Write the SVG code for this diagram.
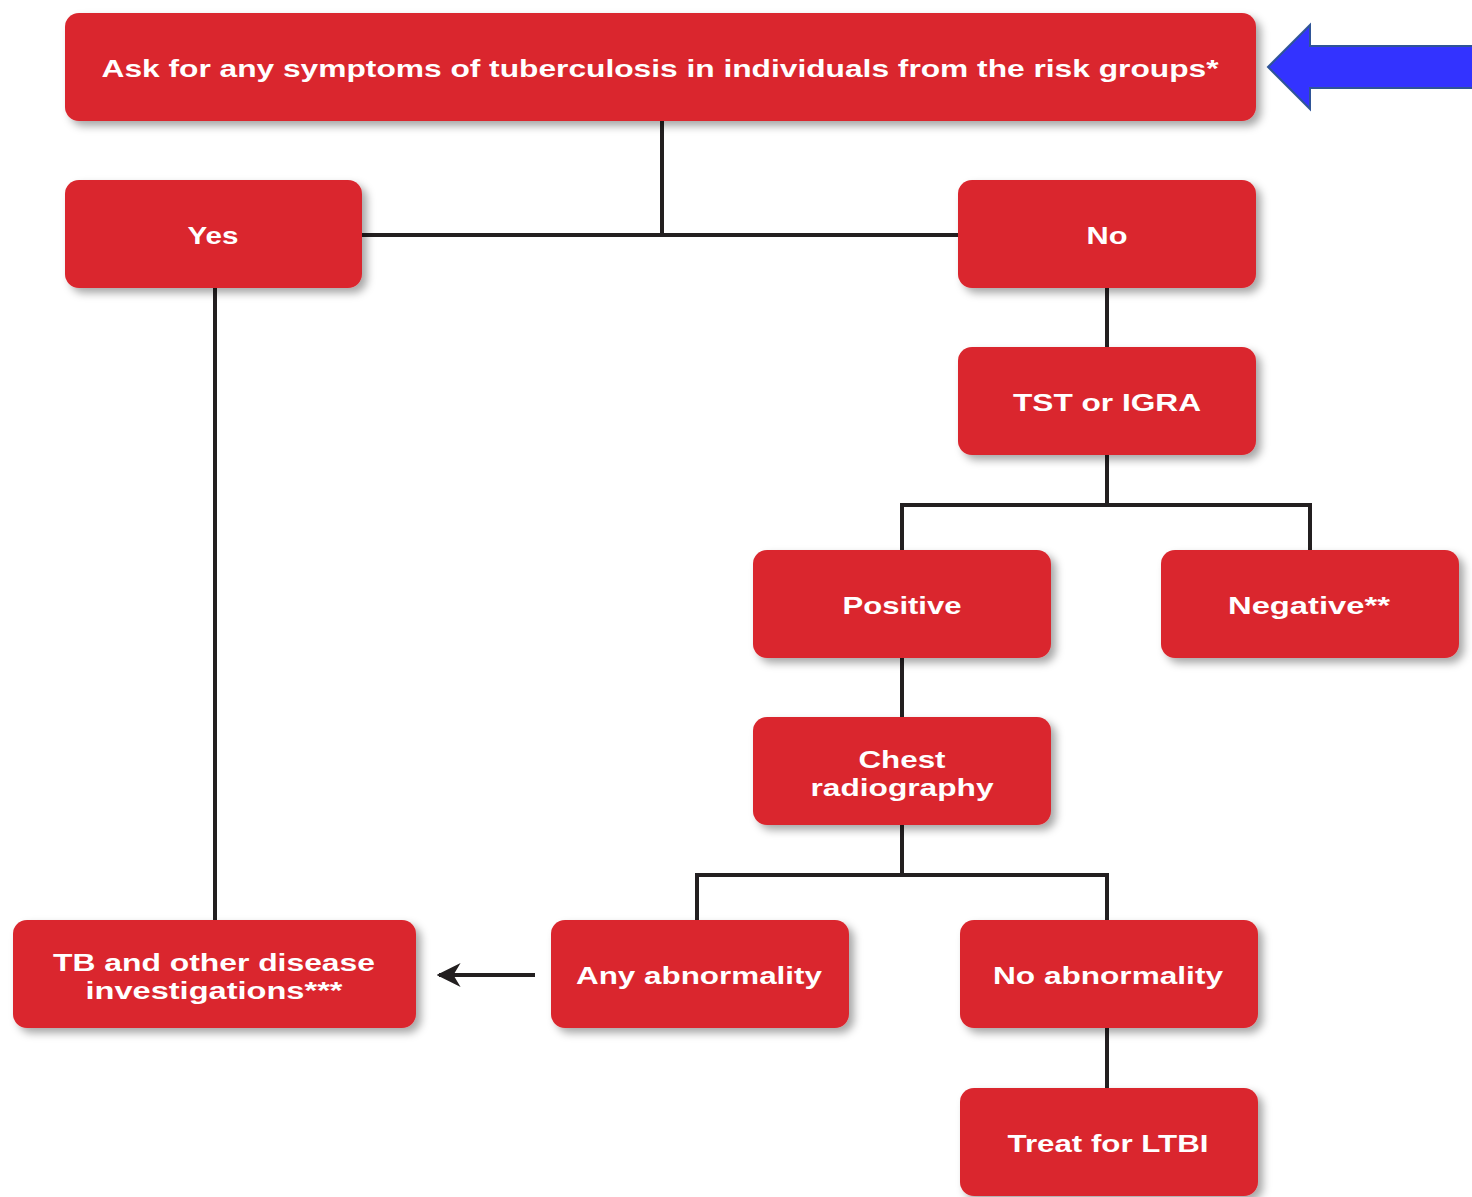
<svg xmlns="http://www.w3.org/2000/svg" width="1472" height="1197" viewBox="0 0 1472 1197">
<style>
.box{fill:#da272e}
.t{font-family:"Liberation Sans",Arial,sans-serif;font-weight:bold;font-size:23px;fill:#ffffff;text-anchor:middle}
.c{stroke:#231f20;stroke-width:4;fill:none}
</style>
<defs>
<filter id="sh" x="-10%" y="-20%" width="130%" height="150%">
<feDropShadow dx="5" dy="5" stdDeviation="4" flood-color="#000" flood-opacity="0.35"/>
</filter>
<marker id="ah" viewBox="0 0 10 10" refX="9" refY="5" markerWidth="6" markerHeight="6" orient="auto" markerUnits="strokeWidth">
<path d="M0,0 L10,5 L0,10 L3,5 Z" fill="#231f20"/>
</marker>
</defs>
<rect width="1472" height="1197" fill="#ffffff"/>
<g id="connectors">
<path class="c" d="M662,121 V235 M362,235 H958"/>
<path class="c" d="M215,288 V920"/>
<path class="c" d="M1107,288 V347"/>
<path class="c" d="M1107,455 V505 M902,550 V505 H1310 V550"/>
<path class="c" d="M902,658 V717"/>
<path class="c" d="M902,825 V875 M697,920 V875 H1107 V920"/>
<path class="c" d="M1107,1028 V1088"/>
<path class="c" d="M535,975 H439" marker-end="url(#ah)"/>
</g>
<g id="n-top"><rect class="box" filter="url(#sh)" x="65" y="13" width="1191" height="108" rx="14"/><text class="t" x="660" y="77" textLength="1117" lengthAdjust="spacingAndGlyphs">Ask for any symptoms of tuberculosis in individuals from the risk groups*</text></g>
<g id="n-yes"><rect class="box" filter="url(#sh)" x="65" y="180" width="297" height="108" rx="14"/><text class="t" x="213" y="244" textLength="51" lengthAdjust="spacingAndGlyphs">Yes</text></g>
<g id="n-no"><rect class="box" filter="url(#sh)" x="958" y="180" width="298" height="108" rx="14"/><text class="t" x="1107" y="244" textLength="41" lengthAdjust="spacingAndGlyphs">No</text></g>
<g id="n-tst"><rect class="box" filter="url(#sh)" x="958" y="347" width="298" height="108" rx="14"/><text class="t" x="1107" y="411" textLength="188" lengthAdjust="spacingAndGlyphs">TST or IGRA</text></g>
<g id="n-pos"><rect class="box" filter="url(#sh)" x="753" y="550" width="298" height="108" rx="14"/><text class="t" x="902" y="614" textLength="119" lengthAdjust="spacingAndGlyphs">Positive</text></g>
<g id="n-neg"><rect class="box" filter="url(#sh)" x="1161" y="550" width="298" height="108" rx="14"/><text class="t" x="1309" y="614" textLength="162" lengthAdjust="spacingAndGlyphs">Negative**</text></g>
<g id="n-chest"><rect class="box" filter="url(#sh)" x="753" y="717" width="298" height="108" rx="14"/><text class="t" x="902" y="768" textLength="87" lengthAdjust="spacingAndGlyphs">Chest</text><text class="t" x="902" y="796" textLength="183" lengthAdjust="spacingAndGlyphs">radiography</text></g>
<g id="n-tb"><rect class="box" filter="url(#sh)" x="13" y="920" width="403" height="108" rx="14"/><text class="t" x="214" y="971" textLength="322" lengthAdjust="spacingAndGlyphs">TB and other disease</text><text class="t" x="214" y="999" textLength="257" lengthAdjust="spacingAndGlyphs">investigations***</text></g>
<g id="n-any"><rect class="box" filter="url(#sh)" x="551" y="920" width="298" height="108" rx="14"/><text class="t" x="699" y="984" textLength="246" lengthAdjust="spacingAndGlyphs">Any abnormality</text></g>
<g id="n-noab"><rect class="box" filter="url(#sh)" x="960" y="920" width="298" height="108" rx="14"/><text class="t" x="1108" y="984" textLength="230" lengthAdjust="spacingAndGlyphs">No abnormality</text></g>
<g id="n-ltbi"><rect class="box" filter="url(#sh)" x="960" y="1088" width="298" height="108" rx="14"/><text class="t" x="1108" y="1152" textLength="201" lengthAdjust="spacingAndGlyphs">Treat for LTBI</text></g>
<g id="blue-arrow"><path d="M1268,67 L1310,25 V46 H1474 V88 H1310 V109 Z" fill="#3333ff" stroke="#2f5597" stroke-width="2"/></g>
</svg>
